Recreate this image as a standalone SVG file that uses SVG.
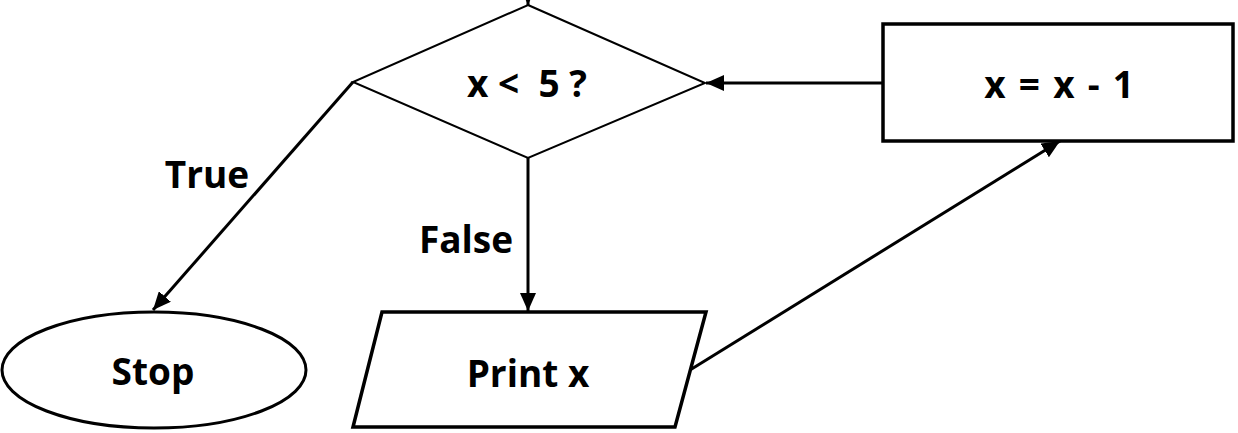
<svg xmlns="http://www.w3.org/2000/svg" width="1238" height="433" viewBox="0 0 1238 433">
<style>
.shape{fill:#fff;stroke:#000}
.conn{stroke:#000;stroke-width:3;fill:none}
text{font-family:"Open Sans","Liberation Sans",sans-serif;font-weight:bold;font-size:37px;fill:#000;text-anchor:middle;white-space:pre}
</style>
<defs>
<marker id="arr" viewBox="0 0 18 16" refX="18" refY="8" markerWidth="18" markerHeight="16" markerUnits="userSpaceOnUse" orient="auto">
<path d="M0,0 L18,8 L0,16 Z" fill="#000"/>
</marker>
</defs>
<rect width="1238" height="433" fill="#fff"/>
<g id="connectors">
<line class="conn" x1="528" y1="-20" x2="528" y2="5" marker-end="url(#arr)"/>
<line class="conn" x1="883" y1="83" x2="706" y2="83" marker-end="url(#arr)"/>
<line class="conn" x1="528" y1="158" x2="528" y2="311" marker-end="url(#arr)"/>
<line class="conn" x1="353" y1="82" x2="153" y2="310" marker-end="url(#arr)"/>
<line class="conn" x1="690" y1="370" x2="1060" y2="141" marker-end="url(#arr)"/>
</g>
<g id="decision">
<polygon class="shape" stroke-width="2" points="528,5 705,83 528,158 353,82"/>
<text x="527" y="97">x &lt;  5 ?</text>
</g>
<g id="decrement">
<rect class="shape" stroke-width="3.5" x="883" y="24" width="350" height="117"/>
<text x="1060" y="98" letter-spacing="1.8">x = x - 1</text>
</g>
<g id="stop">
<ellipse class="shape" stroke-width="3" cx="154" cy="370" rx="152" ry="58"/>
<text x="153" y="385">Stop</text>
</g>
<g id="print">
<polygon class="shape" stroke-width="3.5" points="382,312 706,312 675,427 353,427"/>
<text x="528" y="387">Print x</text>
</g>
<g id="labels">
<text x="207" y="188">True</text>
<text x="466" y="253">False</text>
</g>
</svg>
